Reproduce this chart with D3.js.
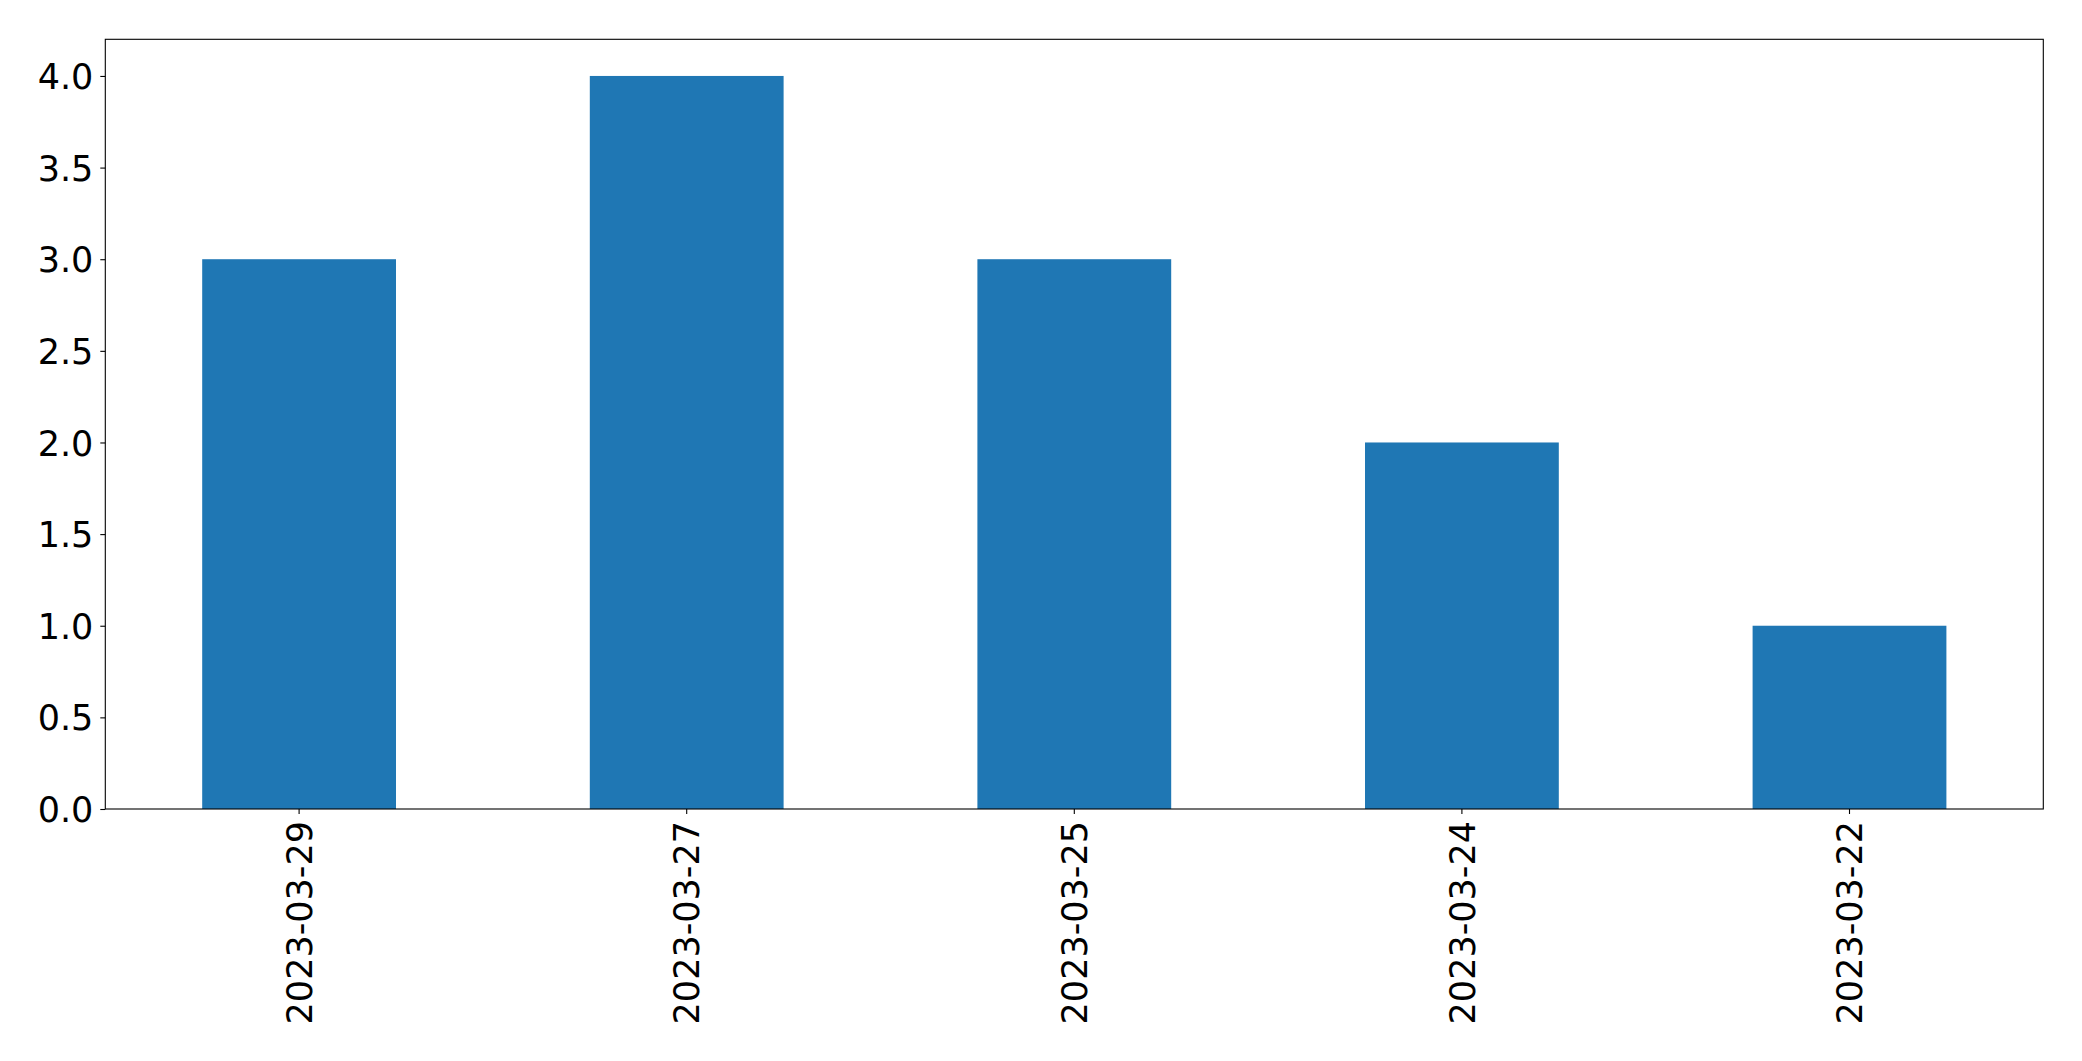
<!DOCTYPE html>
<html><head><meta charset="utf-8">
<script src="https://cdn.jsdelivr.net/npm/d3@7"></script>
<style>
html,body{margin:0;padding:0;background:#fff;}
svg{display:block;}
text{font-family:"DejaVu Sans",sans-serif;fill:#000;}
</style></head>
<body>
<svg id="chart" width="2082" height="1061"></svg>
<script>
const categories = ["2023-03-29","2023-03-27","2023-03-25","2023-03-24","2023-03-22"];
const values = [3, 4, 3, 2, 1];
const yTicks = [0, 0.5, 1, 1.5, 2, 2.5, 3, 3.5, 4];

const margin = {left:105.3, top:39.3, right:2082-2043.3, bottom:1061-809};
const W = 2082, H = 1061;
const iw = W - margin.left - margin.right, ih = H - margin.top - margin.bottom;

const svg = d3.select("#chart");
const g = svg.append("g").attr("transform", `translate(${margin.left},${margin.top})`);

const x = d3.scaleBand().domain(categories).range([0, iw]).paddingInner(0.5).paddingOuter(0.25);
const y = d3.scaleLinear().domain([0, 4.2]).range([ih, 0]);

g.selectAll("rect.bar").data(values).enter().append("rect")
  .attr("class","bar")
  .attr("x",(d,i)=>x(categories[i]))
  .attr("width",x.bandwidth())
  .attr("y",d=>y(d))
  .attr("height",d=>ih - y(d))
  .attr("fill","#1f77b4");

const yAxis = g.append("g").call(d3.axisLeft(y).tickValues(yTicks).tickFormat(d3.format(".1f")).tickSize(5).tickPadding(7));
yAxis.select(".domain").remove();
yAxis.selectAll("text").style("font-size","35px").attr("dy","0.36em");
yAxis.selectAll("line").attr("stroke","#000").attr("stroke-width",1.1);

const xAxis = g.append("g").attr("transform",`translate(0,${ih})`).call(d3.axisBottom(x).tickSize(5).tickPadding(0));
xAxis.select(".domain").remove();
xAxis.selectAll("line").attr("stroke","#000").attr("stroke-width",1.1);
xAxis.selectAll("text").style("font-size","35px")
  .attr("text-anchor","end")
  .attr("transform","translate(0,12) rotate(-90)")
  .attr("x",0).attr("y",0).attr("dy","0.36em");

g.append("rect").attr("x",0).attr("y",0).attr("width",iw).attr("height",ih)
  .attr("fill","none").attr("stroke","#000").attr("stroke-width",1.1);
</script>
</body></html>
